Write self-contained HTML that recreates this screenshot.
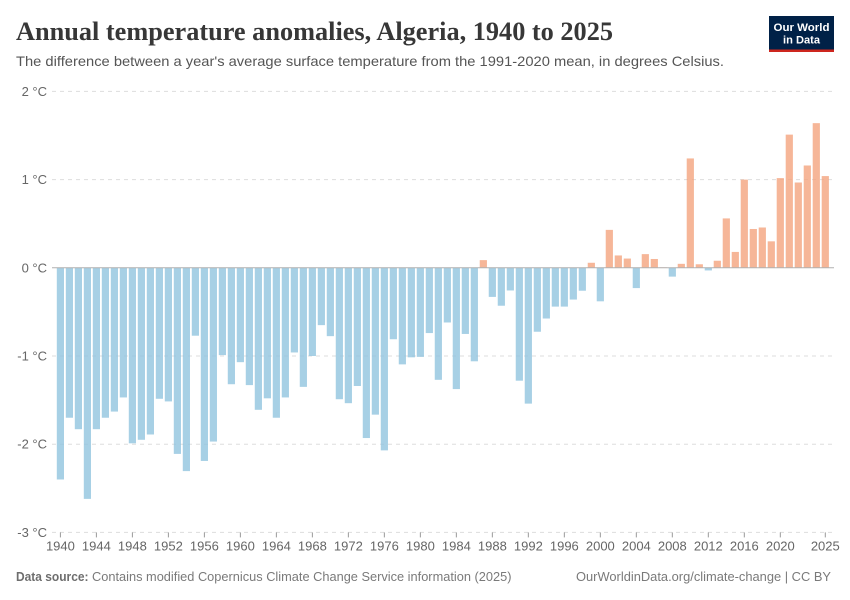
<!DOCTYPE html>
<html lang="en">
<head>
<meta charset="utf-8">
<title>Annual temperature anomalies, Algeria, 1940 to 2025</title>
<style>
html,body{margin:0;padding:0;background:#fff;}
body{width:850px;height:600px;overflow:hidden;}
svg{display:block;}
text{font-family:"Liberation Sans",sans-serif;}
</style>
</head>
<body>
<svg id="chart" width="850" height="600" viewBox="0 0 850 600" xmlns="http://www.w3.org/2000/svg">
  <rect width="850" height="600" fill="#fff"/>
  <text x="16" y="40" font-size="26" font-weight="700" fill="#373737" textLength="597" lengthAdjust="spacingAndGlyphs" style="font-family:'Liberation Serif',serif">Annual temperature anomalies, Algeria, 1940 to 2025</text>
  <text x="16" y="66" font-size="14" fill="#555" textLength="708" lengthAdjust="spacingAndGlyphs">The difference between a year's average surface temperature from the 1991-2020 mean, in degrees Celsius.</text>
  <g>
    <rect x="769" y="16" width="65" height="36" fill="#002147"/>
    <rect x="769" y="49.5" width="65" height="2.5" fill="#ce261e"/>
    <text x="801.5" y="31" font-size="11" font-weight="700" fill="#fff" text-anchor="middle" textLength="56" lengthAdjust="spacingAndGlyphs">Our World</text>
    <text x="801.5" y="43.5" font-size="11" font-weight="700" fill="#fff" text-anchor="middle" textLength="37" lengthAdjust="spacingAndGlyphs">in Data</text>
  </g>
  <g id="grid"></g>
  <g id="bars"></g>
  <g id="axes"></g>
  <text x="16" y="581" font-size="12.5" font-weight="700" fill="#6e6e6e" textLength="72.5" lengthAdjust="spacingAndGlyphs">Data source:</text>
  <text x="92" y="581" font-size="12.5" fill="#7a7a7a" textLength="419.5" lengthAdjust="spacingAndGlyphs">Contains modified Copernicus Climate Change Service information (2025)</text>
  <text x="576" y="581" font-size="12.5" fill="#7a7a7a" textLength="255" lengthAdjust="spacingAndGlyphs">OurWorldinData.org/climate-change | CC BY</text>
</svg>
<script>
const firstYear = 1940;
const lastYear = 2025;
const anomalies = [
  -2.40,-1.70,-1.83,-2.62,-1.83,-1.70,-1.63,-1.47,-1.99,-1.95,
  -1.89,-1.485,-1.515,-2.11,-2.305,-0.77,-2.19,-1.97,-0.99,-1.32,
  -1.07,-1.33,-1.61,-1.48,-1.70,-1.47,-0.96,-1.35,-1.00,-0.65,
  -0.775,-1.49,-1.535,-1.34,-1.93,-1.665,-2.07,-0.81,-1.095,-1.015,
  -1.01,-0.74,-1.27,-0.62,-1.375,-0.75,-1.06,0.087,-0.33,-0.43,
  -0.257,-1.28,-1.54,-0.725,-0.575,-0.44,-0.44,-0.36,-0.26,0.057,
  -0.38,0.43,0.14,0.105,-0.23,0.155,0.10,0.005,-0.10,0.045,
  1.24,0.04,-0.03,0.08,0.56,0.18,1.00,0.44,0.457,0.30,
  1.017,1.51,0.967,1.16,1.64,1.04
];
const yTicks = [2,1,0,-1,-2,-3];
const xTickYears = [1940,1944,1948,1952,1956,1960,1964,1968,1972,1976,1980,1984,1988,1992,1996,2000,2004,2008,2012,2016,2020,2025];

const NS = 'http://www.w3.org/2000/svg';
const plotLeft = 52, plotRight = 834;
const xFirst = 60.4, xLast = 825.3;
const yTop = 91.4, yBottom = 532.4;
const barWidth = 7.2;
function x(year){ return xFirst + (year - firstYear) * (xLast - xFirst) / (lastYear - firstYear); }
function y(v){ return yTop + (2 - v) * (yBottom - yTop) / 5; }
function make(tag, attrs, parent){
  const el = document.createElementNS(NS, tag);
  for (const k in attrs) el.setAttribute(k, attrs[k]);
  parent.appendChild(el);
  return el;
}
const grid = document.getElementById('grid');
const barsG = document.getElementById('bars');
const axes = document.getElementById('axes');

yTicks.forEach(function(t){
  if (t !== 0) {
    const line = make('line', {x1:plotLeft, x2:plotRight, y1:y(t), y2:y(t), stroke:'#dddddd', 'stroke-width':1, 'stroke-dasharray':'4 4'}, grid);
    
    
  }
  const label = make('text', {x:47, y:y(t)+4.5, 'font-size':13, fill:'#666', 'text-anchor':'end'}, axes);
  label.textContent = t + ' °C';
  
  
});

anomalies.forEach(function(v, i){
  const year = firstYear + i;
  const y0 = y(0), yv = y(v);
  const r = make('rect', {
    x: x(year) - barWidth/2,
    y: Math.min(y0, yv),
    width: barWidth,
    height: Math.abs(yv - y0),
    fill: v >= 0 ? '#f4a47e' : '#91c4de',
    'fill-opacity': 0.8
  }, barsG);
  
  
});

const zeroLine = make('line', {x1:plotLeft, x2:plotRight, y1:y(0), y2:y(0), stroke:'#b0b0b0', 'stroke-width':1}, axes);



xTickYears.forEach(function(year){
  const tick = make('line', {x1:x(year), x2:x(year), y1:yBottom, y2:yBottom+5, stroke:'#999', 'stroke-width':1}, axes);
  
  
  const label = make('text', {x:x(year), y:550.5, 'font-size':13, fill:'#666', 'text-anchor':'middle'}, axes);
  label.textContent = year;
  
  
});
</script>
</body>
</html>
